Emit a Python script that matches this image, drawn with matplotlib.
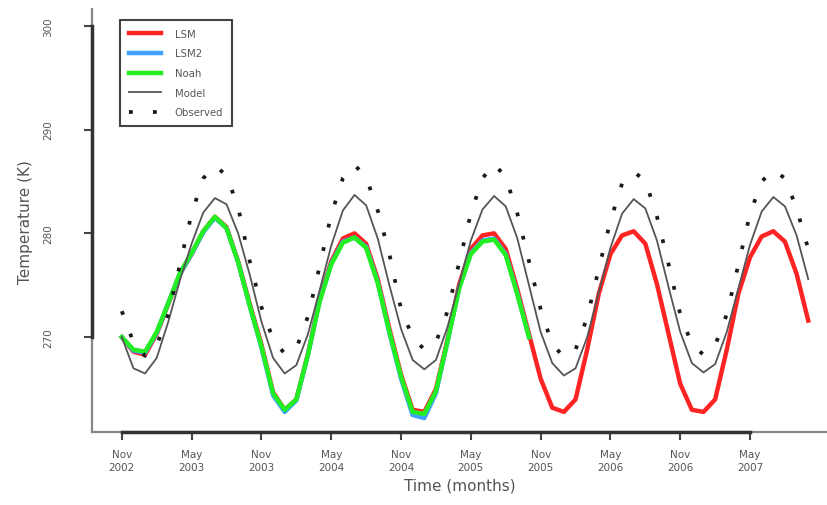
import numpy as np
from matplotlib import pyplot as plt

# monthly series, month 0 = first tick
months = np.arange(60)

red_vals = [270.0, 268.6, 268.3, 270.3, 273.2, 276.1, 278.0, 280.2, 281.6, 280.6,
            277.3, 273.2, 269.3, 264.7, 263.0, 264.0, 268.4, 273.7, 277.3, 279.5,
            280.0, 279.0, 275.6, 270.8, 266.4, 263.0, 262.8, 265.0, 269.8, 275.1,
            278.5, 279.8, 280.0, 278.5, 274.6, 270.3, 266.0, 263.2, 262.8, 264.0,
            268.8, 274.2, 278.0, 279.8, 280.2, 279.0, 275.1, 270.3, 265.5, 263.0,
            262.8, 264.0, 268.8, 274.2, 277.7, 279.7, 280.2, 279.2, 276.1, 271.6]

blue_vals = [270.0, 268.7, 268.5, 270.4, 273.3, 276.1, 278.0, 280.1, 281.5, 280.5,
             277.2, 273.0, 269.0, 264.4, 262.8, 263.9, 268.3, 273.5, 277.1, 279.2,
             279.6, 278.7, 275.3, 270.4, 266.0, 262.5, 262.2, 264.6, 269.6, 274.8,
             278.1, 279.3, 279.5, 278.0, 274.2, 270.0]

green_vals = [270.0, 268.8, 268.6, 270.5, 273.3, 276.2, 278.1, 280.2, 281.6, 280.5,
              277.2, 273.0, 269.1, 264.6, 263.0, 264.0, 268.3, 273.4, 277.0, 279.1,
              279.6, 278.6, 275.2, 270.5, 266.2, 262.8, 262.6, 264.8, 269.6, 274.7,
              278.0, 279.2, 279.4, 277.9, 274.1, 270.0]

model_vals = [270.0, 267.0, 266.5, 268.0, 271.5, 275.5, 279.0, 282.0, 283.4, 282.8,
              280.0, 276.0, 271.5, 268.0, 266.5, 267.3, 270.3, 274.5, 278.8, 282.2,
              283.7, 282.7, 279.5, 275.0, 270.8, 267.8, 266.9, 267.8, 271.0, 275.2,
              279.3, 282.3, 283.6, 282.6, 279.5, 275.0, 270.5, 267.5, 266.3, 267.0,
              270.0, 274.3, 278.6, 281.9, 283.3, 282.4, 279.3, 274.8, 270.5, 267.5,
              266.6, 267.4, 270.5, 274.7, 278.9, 282.1, 283.5, 282.6, 279.8, 275.6]

obs_vals = [272.5, 269.5, 268.2, 269.2, 272.2, 277.0, 281.9, 285.3, 286.5, 285.6,
            282.5, 277.3, 272.9, 269.8, 268.4, 268.9, 272.0, 276.8, 281.8, 285.3,
            286.6, 285.4, 282.2, 278.0, 272.7, 270.0, 268.8, 269.5, 272.5, 277.2,
            281.9, 285.3, 286.7, 285.4, 281.9, 277.3, 272.7, 269.3, 268.1, 268.8,
            271.9, 276.6, 281.2, 284.8, 285.9, 285.1, 281.6, 277.0, 272.2, 269.3,
            268.3, 269.2, 272.2, 277.0, 281.9, 285.0, 286.1, 285.3, 282.4, 278.5]

labels = ["LSM", "LSM2", "Noah", "Model", "Observed"]
tick_months = [0, 6, 12, 18, 24, 30, 36, 42, 48, 54]
tick_labels = ["Nov\n2002", "May\n2003", "Nov\n2003", "May\n2004", "Nov\n2004",
               "May\n2005", "Nov\n2005", "May\n2006", "Nov\n2006", "May\n2007"]
y_ticks = [270, 280, 290, 300]

fig = plt.figure(figsize=(8.28, 5.06), dpi=100)
ax = fig.add_axes([0.111, 0.144, 0.889, 0.836])

ax.plot(months, red_vals, color="#ff2424", lw=3.2, label=labels[0], zorder=3)
ax.plot(months[:len(blue_vals)], blue_vals, color="#3fa0ff", lw=3.2, label=labels[1], zorder=4)
ax.plot(months[:len(green_vals)], green_vals, color="#22ee22", lw=3.2, label=labels[2], zorder=5)
ax.plot(months, model_vals, color="#555555", lw=1.3, label=labels[3], zorder=6)
ax.plot(months, obs_vals, color="#1a1a1a", lw=2.7, linestyle=(0, (1, 5.4)),
        dash_capstyle="butt", label=labels[4], zorder=7)

xlim = (-2.57, 60.7)
ylim = (260.85, 301.6)
ax.set_xlim(*xlim)
ax.set_ylim(*ylim)

# R style axes: grey full frame line plus thick dark axis between ticks
for side in ["top", "right"]:
    ax.spines[side].set_visible(False)
for side in ["left", "bottom"]:
    ax.spines[side].set_color("#333333")
    ax.spines[side].set_linewidth(2.5)
    ax.spines[side].set_zorder(2)
ax.spines["left"].set_bounds(y_ticks[0], y_ticks[-1])
ax.spines["bottom"].set_bounds(tick_months[0], tick_months[-1])
ax.plot(xlim, [ylim[0], ylim[0]], color="#888888", lw=1.6, clip_on=False, zorder=1)
ax.plot([xlim[0], xlim[0]], ylim, color="#888888", lw=1.6, clip_on=False, zorder=1)

ax.set_xticks(tick_months)
ax.set_xticklabels(tick_labels, fontsize=7.5, color="#555555", linespacing=1.4)
ax.set_yticks(y_ticks)
ax.set_yticklabels([str(v) for v in y_ticks], fontsize=7.5, color="#555555",
                   rotation=90, va="center")
ax.tick_params(axis="x", length=6, width=1.5, color="#444444", pad=6)
ax.tick_params(axis="y", length=6, width=1.5, color="#444444", pad=22)

ax.set_xlabel("Time (months)", fontsize=11, color="#555555", labelpad=4)
ax.set_ylabel("Temperature (K)", fontsize=11, color="#555555", labelpad=7)

leg = ax.legend(loc="upper left", bbox_to_anchor=(0.038, 0.975), fontsize=7.3,
                handlelength=3.2, handletextpad=1.3, labelspacing=0.95,
                borderpad=0.9, borderaxespad=0, fancybox=False, framealpha=1)
leg.get_frame().set_edgecolor("#444444")
leg.get_frame().set_linewidth(1.5)
for t in leg.get_texts():
    t.set_color("#555555")

fig.savefig("out.png", dpi=100)
